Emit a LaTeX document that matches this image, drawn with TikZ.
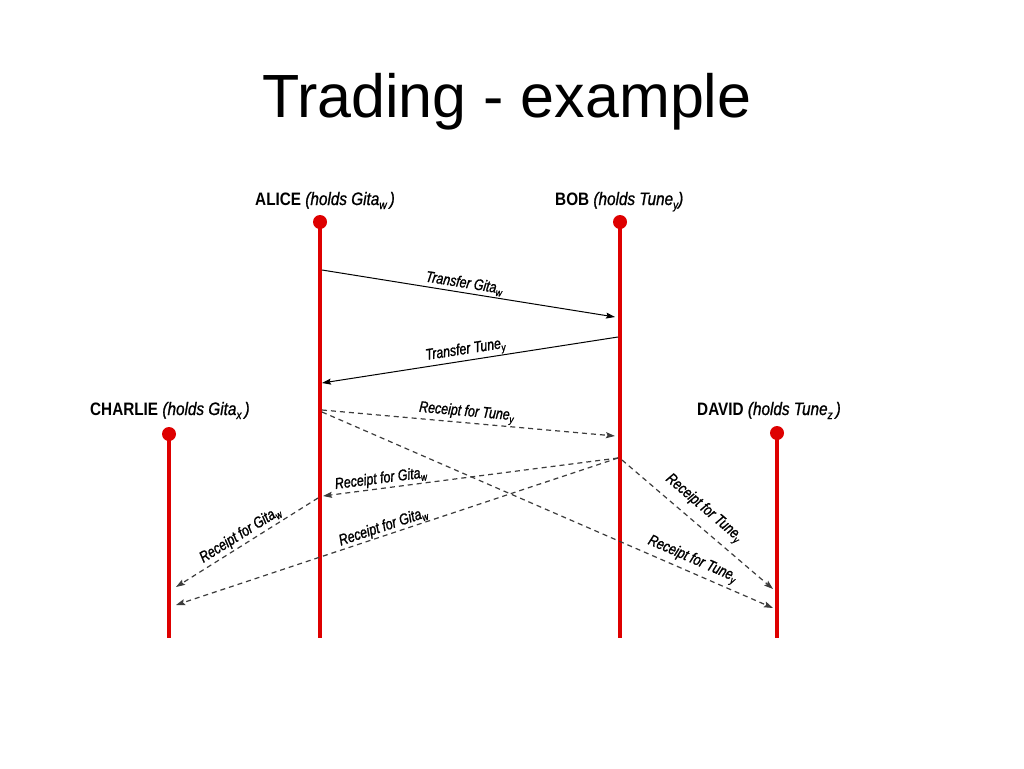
\documentclass[tikz,border=0pt]{standalone}
\usepackage{fontspec}
\setmainfont{Liberation Sans}
\newfontfamily\namefont[FakeStretch=0.85]{Liberation Sans}
\newfontfamily\holdfont[FakeStretch=0.85,FakeBold=1]{Liberation Sans}
\newfontfamily\lblfont[FakeStretch=0.8,FakeBold=1.2]{Liberation Sans}
\usetikzlibrary{arrows.meta}
\definecolor{lifered}{RGB}{222,0,0}
\definecolor{dashgray}{RGB}{60,60,60}
\newcommand\nsub[1]{\raisebox{-4pt}{\fontsize{12}{12}\selectfont #1}}
\newcommand\lsub[1]{\raisebox{-3pt}{\fontsize{10.5}{10.5}\selectfont #1}}
\begin{document}
\begin{tikzpicture}[x=1pt,y=-1pt,
  lifeline/.style={draw=lifered, line width=3.5pt},
  dotnode/.style={circle, fill=lifered, inner sep=0pt, minimum size=14pt},
  namelbl/.style={font=\namefont\fontsize{18}{20}\selectfont, anchor=base west, inner sep=0pt},
  msg/.style={draw=black, line width=1pt, -{Stealth[length=9pt,width=6pt,inset=1.5pt]}},
  rcpt/.style={msg, draw=dashgray, line width=1.2pt, dash pattern=on 5pt off 4pt},
  lbl/.style={font=\lblfont\itshape\fontsize{15.5}{16}\selectfont, sloped, inner sep=0pt},
]
\useasboundingbox[fill=white] (0,0) rectangle (1024,768);

% title
\node[anchor=base west, inner sep=0pt, font=\fontsize{61}{70}\selectfont] (title) at (262,117) {Trading - example};

% participant names
\node[namelbl] (nalice) at (255,205) {\textbf{ALICE} {\holdfont\itshape (holds Gita\nsub{w}\,)}};
\node[namelbl] (nbob) at (555,205) {\textbf{BOB} {\holdfont\itshape (holds Tune\nsub{y})}};
\node[namelbl] (ncharlie) at (90,415) {\textbf{CHARLIE} {\holdfont\itshape (holds Gita\nsub{x}\,)}};
\node[namelbl] (ndavid) at (697,415) {\textbf{DAVID} {\holdfont\itshape (holds Tune\nsub{z}\,)}};

% lifelines
\node[dotnode] (alice) at (320,222) {};
\node[dotnode] (bob) at (620,222) {};
\node[dotnode] (charlie) at (169,434) {};
\node[dotnode] (david) at (777,433) {};
\coordinate (aliceE) at (320,638);
\coordinate (bobE) at (620,638);
\coordinate (charlieE) at (169,638);
\coordinate (davidE) at (777,638);
\draw[lifeline] (alice.center) -- (aliceE);
\draw[lifeline] (bob.center) -- (bobE);
\draw[lifeline] (charlie.center) -- (charlieE);
\draw[lifeline] (david.center) -- (davidE);

% message points
\coordinate (m1s) at (322,270);  \coordinate (m1e) at (615,317);
\coordinate (m2s) at (618,337);  \coordinate (m2e) at (322,383);
\coordinate (m3s) at (322,410);  \coordinate (m3e) at (615,436);
\coordinate (m4s) at (322,412);  \coordinate (m4e) at (773,608);
\coordinate (m5s) at (618,458);  \coordinate (m5e) at (323,496);
\coordinate (m6s) at (618,458);  \coordinate (m6e) at (176,605);
\coordinate (m7s) at (318,498);  \coordinate (m7e) at (176,587);
\coordinate (m8s) at (622,460);  \coordinate (m8e) at (773,589);

% messages
\draw[msg] (m1s) -- node[lbl, pos=0.48, above=1.5pt] {Transfer Gita\lsub{w}} (m1e);
\draw[msg] (m2s) -- node[lbl, pos=0.51, above=1pt] {Transfer Tune\lsub{y}} (m2e);
\draw[rcpt] (m3s) -- node[lbl, pos=0.49, above=1pt] {Receipt for Tune\lsub{y}} (m3e);
\draw[rcpt] (m4s) -- node[lbl, pos=0.81, above=3pt] {Receipt for Tune\lsub{y}} (m4e);
\draw[rcpt] (m5s) -- node[lbl, pos=0.80, above=1.5pt] {Receipt for Gita\lsub{w}} (m5e);
\draw[rcpt] (m6s) -- node[lbl, pos=0.525, above=0.5pt] {Receipt for Gita\lsub{w}} (m6e);
\draw[rcpt] (m7s) -- node[lbl, pos=0.51, above=2pt] {Receipt for Gita\lsub{w}} (m7e);
\draw[rcpt] (m8s) -- node[lbl, pos=0.47, above=7pt] {Receipt for Tune\lsub{y}} (m8e);
\end{tikzpicture}
\end{document}
